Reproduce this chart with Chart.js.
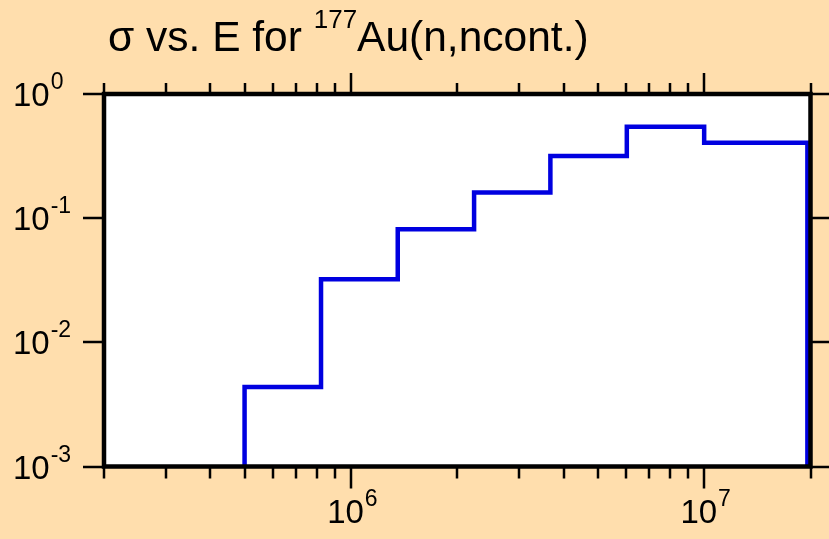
<!DOCTYPE html>
<html lang="en">
<head>
  <meta charset="UTF-8" />
  <title>sigma vs E for 177Au(n,ncont.)</title>
  <script src="https://cdn.jsdelivr.net/npm/chart.js"></script>
  <style>
    body {
      margin: 0;
      background-color: #ffdead;
    }
    canvas {
      display: block;
    }
  </style>
</head>
<body>

  <canvas id="xsChart" width="829" height="539"></canvas>

  <script>
    // bin edges (eV) and cross sections (b)
    const energyEdges = [5.0e5, 8.23e5, 1.357e6, 2.232e6, 3.67e6, 6.04e6, 1.0e7, 1.96e7];
    const sigma = [4.37e-3, 0.0322, 0.0814, 0.161, 0.317, 0.545, 0.405];

    // axes
    const xMin = 2e5, xMax = 2e7;
    const yMin = 1e-3, yMax = 1;
    const xMajor = [1e6, 1e7];
    const xMajorExp = ['6', '7'];
    const xMinor = [2e5, 3e5, 4e5, 5e5, 6e5, 7e5, 8e5, 9e5,
                    2e6, 3e6, 4e6, 5e6, 6e6, 7e6, 8e6, 9e6, 2e7];
    const yMajor = [1, 0.1, 0.01, 0.001];
    const yMajorExp = ['0', '-1', '-2', '-3'];

    // step histogram: up from the axis floor, across each bin, back down
    const points = [{ x: energyEdges[0], y: yMin }];
    sigma.forEach((s, i) => points.push({ x: energyEdges[i], y: s }));
    points.push({ x: energyEdges[energyEdges.length - 1], y: yMin });

    const FONT = '"Liberation Sans", Arial, sans-serif';

    function drawPow(ctx, base, exp, x, y, align) {
      ctx.font = '33px ' + FONT;
      const wb = ctx.measureText(base).width;
      ctx.font = '23px ' + FONT;
      const we = ctx.measureText(exp).width;
      let x0 = x;
      if (align === 'center') x0 = x - (wb + we) / 2;
      ctx.textAlign = 'left';
      ctx.textBaseline = 'alphabetic';
      ctx.font = '33px ' + FONT;
      ctx.fillText(base, x0, y);
      ctx.font = '23px ' + FONT;
      ctx.fillText(exp, x0 + wb + 1, y - 17);
    }

    const framePlugin = {
      id: 'framePlugin',
      beforeDraw(chart) {
        const ctx = chart.ctx, a = chart.chartArea;
        ctx.save();
        ctx.fillStyle = '#ffdead';
        ctx.fillRect(0, 0, chart.width, chart.height);
        ctx.fillStyle = '#ffffff';
        ctx.fillRect(a.left, a.top, a.right - a.left, a.bottom - a.top);
        ctx.restore();
      },
      afterDatasetsDraw(chart) {
        const ctx = chart.ctx, a = chart.chartArea;
        const xs = chart.scales.x, ys = chart.scales.y;
        ctx.save();
        ctx.strokeStyle = '#000';
        ctx.fillStyle = '#000';

        // ticks
        ctx.lineWidth = 2.5;
        ctx.beginPath();
        xMinor.forEach(v => {
          const px = Math.round(xs.getPixelForValue(v));
          ctx.moveTo(px, a.bottom); ctx.lineTo(px, a.bottom + 12);
          ctx.moveTo(px, a.top); ctx.lineTo(px, a.top - 11);
        });
        xMajor.forEach(v => {
          const px = Math.round(xs.getPixelForValue(v));
          ctx.moveTo(px, a.bottom); ctx.lineTo(px, a.bottom + 22);
          ctx.moveTo(px, a.top); ctx.lineTo(px, a.top - 21);
        });
        yMajor.forEach(v => {
          const py = Math.round(ys.getPixelForValue(v));
          ctx.moveTo(a.left, py); ctx.lineTo(a.left - 21, py);
          ctx.moveTo(a.right, py); ctx.lineTo(a.right + 21, py);
        });
        ctx.stroke();

        // frame
        ctx.lineWidth = 4.5;
        ctx.strokeRect(a.left, a.top, a.right - a.left, a.bottom - a.top);

        // tick labels
        xMajor.forEach((v, i) => {
          drawPow(ctx, '10', xMajorExp[i], xs.getPixelForValue(v) + 1, a.bottom + 56.5, 'center');
        });
        yMajor.forEach((v, i) => {
          drawPow(ctx, '10', yMajorExp[i], 13, ys.getPixelForValue(v) + 12, 'left');
        });

        // title with superscript mass number
        ctx.textAlign = 'left';
        ctx.textBaseline = 'alphabetic';
        let tx = 108;
        ctx.font = '42.5px ' + FONT;
        ctx.fillText('σ vs. E for ', tx, 51);
        tx += ctx.measureText('σ vs. E for ').width;
        ctx.font = '26px ' + FONT;
        ctx.fillText('177', tx, 28);
        tx += ctx.measureText('177').width;
        ctx.font = '42.5px ' + FONT;
        ctx.fillText('Au(n,ncont.)', tx, 51);

        ctx.restore();
      }
    };

    new Chart(document.getElementById('xsChart'), {
      type: 'line',
      data: {
        datasets: [{
          data: points,
          borderColor: '#0000e0',
          borderWidth: 4.5,
          stepped: true,
          fill: false,
          pointRadius: 0,
          tension: 0
        }]
      },
      options: {
        responsive: false,
        animation: false,
        layout: {
          padding: { left: 104, right: 18.5, top: 94, bottom: 72.5 }
        },
        plugins: {
          legend: { display: false },
          tooltip: { enabled: false },
          title: { display: false }
        },
        scales: {
          x: { type: 'logarithmic', min: xMin, max: xMax, display: false },
          y: { type: 'logarithmic', min: yMin, max: yMax, display: false }
        }
      },
      plugins: [framePlugin]
    });
  </script>

</body>
</html>
